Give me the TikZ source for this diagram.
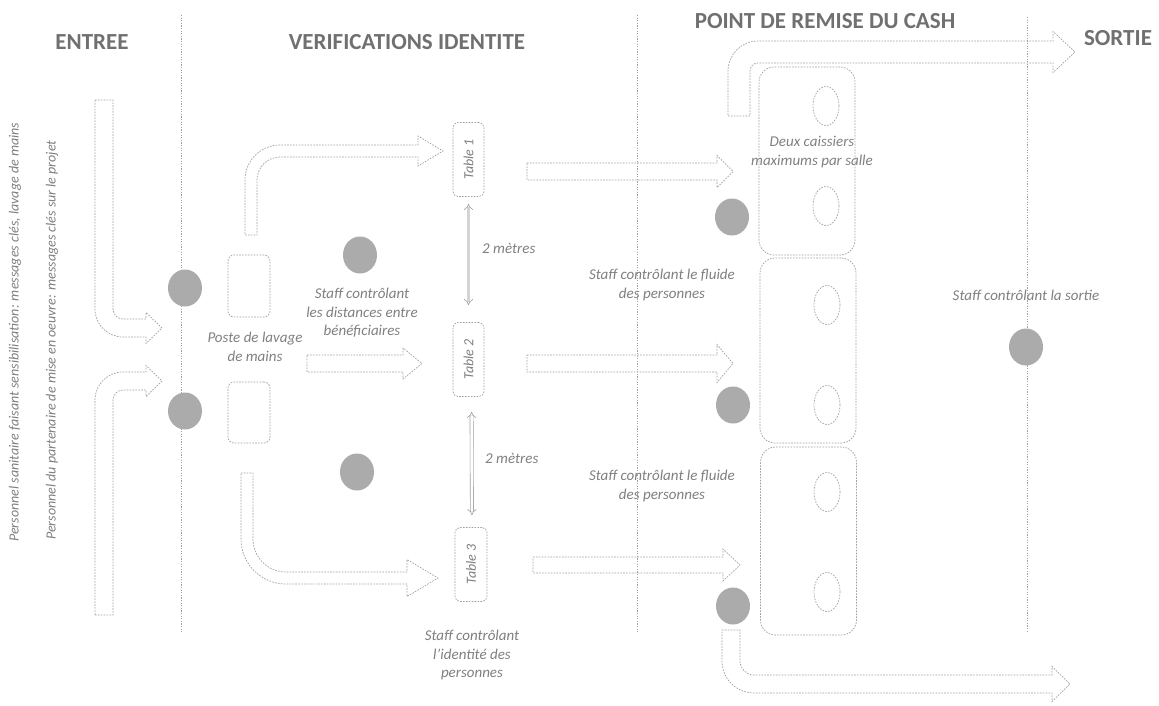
\documentclass[tikz,border=0pt]{standalone}
\usepackage{fontspec}
\setmainfont{Carlito}
\usetikzlibrary{shapes.geometric,arrows.meta}
\definecolor{lineg}{HTML}{A0A0A0}
\definecolor{textg}{HTML}{808080}
\definecolor{titleg}{HTML}{707070}
\definecolor{dotg}{HTML}{ABABAB}
\begin{document}
\begin{tikzpicture}[x=1pt,y=-1pt,
  dashline/.style={draw=lineg, line width=0.7pt, dash pattern=on 1.6pt off 1.3pt},
  divider/.style={draw=lineg, line width=0.7pt, dash pattern=on 1.2pt off 1.4pt},
  lbl/.style={font=\fontsize{15}{18.5}\selectfont\itshape, text=textg, align=center, inner sep=0},
  sidelbl/.style={font=\fontsize{14}{17}\selectfont\itshape, text=textg, inner sep=0, rotate=90, anchor=west},
  ttl/.style={font=\fontsize{23}{27}\selectfont\bfseries, text=titleg, inner sep=0},
  gdot/.style={ellipse, fill=dotg, draw=none, minimum width=34, minimum height=37, inner sep=0},
  rbox/.style={dashline, rounded corners=6, inner sep=0},
  tablebox/.style={rbox, rounded corners=5, minimum width=31, minimum height=74, font=\fontsize{14}{16}\selectfont\itshape, text=textg},
  room/.style={dashline, rounded corners=15, inner sep=0, minimum width=96},
  oval/.style={ellipse, dashline, minimum width=26, minimum height=39, inner sep=0},
  blockarr/.style={dashline},
  twom/.style={draw=lineg, double distance=2.6pt, line width=0.6pt, {Implies}-{Implies}}
]
\fill[white] (0,0) rectangle (1159,706);
\useasboundingbox (0,0) rectangle (1159,706);

% titles
\node[ttl] (tE) at (92,42) {ENTREE};
\node[ttl] (tV) at (407,42) {VERIFICATIONS IDENTITE};
\node[ttl] (tC) at (825,21) {POINT DE REMISE DU CASH};
\node[ttl] (tS) at (1118,38) {SORTIE};

% dividers
\draw[divider] (181,15) -- (181,633);
\draw[divider] (637,15) -- (637,633);
\draw[divider] (1027,17) -- (1027,633);

% side texts
\node[sidelbl] (s1) at (15,542) {Personnel sanitaire faisant sensibilisation: messages clés, lavage de mains};
\node[sidelbl] (s2) at (52,540) {Personnel du partenaire de mise en oeuvre: messages clés sur le projet};

% entry arrows
\draw[blockarr] (95,100) -- (113,100) -- (113,309) arc[start angle=180,end angle=90,radius=10]
  -- (146,319) -- (146,312.5) -- (162,328) -- (146,343.5) -- (146,337) -- (123,337)
  arc[start angle=90,end angle=180,radius=28] -- cycle;
\draw[blockarr] (95,615) -- (113,615) -- (113,400) arc[start angle=180,end angle=270,radius=10]
  -- (146,390) -- (146,396.5) -- (162,381) -- (146,365.5) -- (146,372) -- (123,372)
  arc[start angle=270,end angle=180,radius=28] -- cycle;

% dots
\node[gdot] (d1) at (185,288) {};
\node[gdot] (d2) at (185,411) {};
\node[gdot] (d3) at (360,255) {};
\node[gdot] (d4) at (357,472) {};
\node[gdot] (d5) at (732,217) {};
\node[gdot] (d6) at (733,405) {};
\node[gdot] (d7) at (733,606) {};
\node[gdot] (d8) at (1026,347) {};

% wash stations
\node[rbox, minimum width=42, minimum height=62] (w1) at (249,286) {};
\node[rbox, minimum width=42, minimum height=61] (w2) at (249,412.5) {};
\node[lbl] (wl) at (255,347) {Poste de lavage\\de mains};

% arrows from wash stations
\draw[blockarr] (245,235) -- (257,235) -- (257,180) arc[start angle=180,end angle=270,radius=23]
  -- (418,157) -- (418,166) -- (443,151) -- (418,136) -- (418,145) -- (280,145)
  arc[start angle=270,end angle=180,radius=35] -- cycle;
\draw[blockarr] (241,473) -- (253,473) -- (253,539) arc[start angle=180,end angle=90,radius=33]
  -- (407,572) -- (407,559.5) -- (438,578) -- (407,596.5) -- (407,584) -- (286,584)
  arc[start angle=90,end angle=180,radius=45] -- cycle;
\draw[blockarr] (307,355) -- (403,355) -- (403,348) -- (422,363.5) -- (403,379) -- (403,372) -- (307,372) -- cycle;

\node[lbl] (l1) at (362,313) {Staff contrôlant\\les distances entre\\bénéficiaires};

% tables
\node[tablebox] (t1) at (468.5,159.5) {\rotatebox{90}{Table 1}};
\node[tablebox] (t2) at (468.5,359.5) {\rotatebox{90}{Table 2}};
\node[tablebox, minimum width=32] (t3) at (471,564.5) {\rotatebox{90}{Table 3}};

\draw[twom, double=lineg!45, shorten <=7pt, shorten >=17pt] (t1.south) -- (t2.north);
\draw[twom, double=white, shorten <=15pt, shorten >=12pt] ([xshift=3pt]t2.south) -- ([xshift=1pt]t3.north);
\node[lbl, anchor=west] (m1) at (482,248) {2 mètres};
\node[lbl, anchor=west] (m2) at (485,458) {2 mètres};

\node[lbl] (l2) at (472,655) {Staff contrôlant\\l'identité des\\personnes};

% arrows to cash
\draw[blockarr] (527,163) -- (717,163) -- (717,155.5) -- (733,171.5) -- (717,187.5) -- (717,180) -- (527,180) -- cycle;
\draw[blockarr] (527,355) -- (717,355) -- (717,344.5) -- (733,363.5) -- (717,382.5) -- (717,372) -- (527,372) -- cycle;
\draw[blockarr] (533,557) -- (723,557) -- (723,549) -- (740,565) -- (723,581) -- (723,573) -- (533,573) -- cycle;

\node[lbl] (l3) at (662,285) {Staff contrôlant le fluide\\des personnes};
\node[lbl] (l4) at (662,486) {Staff contrôlant le fluide\\des personnes};

% cash rooms
\node[room, minimum height=188] (r1) at (807,161) {};
\node[room, minimum height=185] (r2) at (808,350.5) {};
\node[room, minimum height=188] (r3) at (808.5,541) {};
\node[oval] (o1) at (826,106) {};
\node[oval] (o2) at (826,206) {};
\node[oval] (o3) at (827,305) {};
\node[oval] (o4) at (827,405) {};
\node[oval] (o5) at (827,492) {};
\node[oval] (o6) at (827,592) {};
\node[lbl] (l5) at (812,152) {Deux caissiers\\maximums par salle};

% exit arrows
\draw[blockarr] (728,116) -- (750,116) -- (750,71) arc[start angle=180,end angle=270,radius=8]
  -- (1053,63) -- (1053,72.5) -- (1075,52) -- (1053,31.5) -- (1053,41) -- (758,41)
  arc[start angle=270,end angle=180,radius=30] -- cycle;
\draw[blockarr] (722,630) -- (740,630) -- (740,661) arc[start angle=180,end angle=90,radius=14]
  -- (1052,675) -- (1052,666.5) -- (1070,684) -- (1052,701.5) -- (1052,693) -- (754,693)
  arc[start angle=90,end angle=180,radius=32] -- cycle;

\node[lbl] (l6) at (1026,295) {Staff contrôlant la sortie};
\end{tikzpicture}
\end{document}
